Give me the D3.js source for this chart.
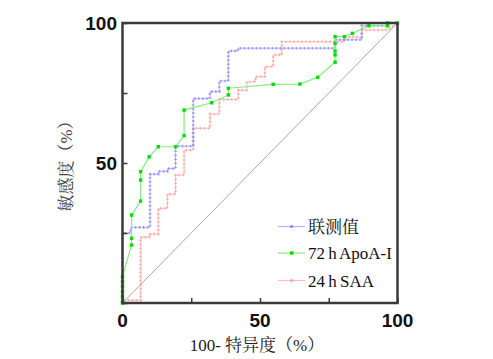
<!DOCTYPE html>
<html><head><meta charset="utf-8">
<script src="https://cdn.jsdelivr.net/npm/d3@7"></script>
<style>body{margin:0;background:#fff}svg{display:block}</style>
</head><body>
<script>
const seriesNames = ["联测值", "72 h ApoA-I", "24 h SAA"];
const xTicksLabeled = [0, 50, 100];
const yTicksLabeled = [50, 100];
const xTitle = "100- 特异度（%）";
const yTitle = "敏感度（%）";

// 联测值 (blue) ROC vertices [100-specificity, sensitivity]
const combined = [[0,0],[0,25],[3,25],[3,27],[10,27],[10,46],[13,46],[13,47],[16.3,47],[16.3,48],[19.3,48],[19.3,56],[25.7,56],[25.7,73],[31.8,73],[31.8,75.5],[35.2,75.5],[35.2,79.3],[38.5,79.3],[38.5,90],[42,90],[42,91],[77.3,91],[77.3,94],[87,94],[87,99],[96,99],[96,100],[100,100]];
// 72 h ApoA-I (green)
const apoa = [[0,0],[0,0.5],[0,2.3],[0,4.1],[0,5.9],[0,7.6],[0,9.4],[3.3,20.7],[3.3,23.1],[3.3,31.4],[6.6,36.4],[6.6,43.9],[6.6,46.9],[9.7,52.2],[13,55.8],[19.3,55.8],[22.4,59.8],[22.4,68.9],[32.4,71.5],[38.5,74.3],[38.5,76.7],[54.8,78.1],[64.5,78.2],[71,80.6],[77.3,86],[77.3,88.6],[77.3,90],[77.3,92.7],[77.3,95.1],[80.7,95.1],[83.6,96.3],[89.6,99],[96.4,99],[96.4,100],[100,100]];
// 24 h SAA (pink)
const saa = [[0,0],[0,1],[6.6,1],[6.6,23.5],[9.7,23.5],[9.7,24.6],[13,24.6],[13,33.8],[16.3,33.8],[16.3,38.9],[19.3,38.9],[19.3,45.7],[22.4,45.7],[22.4,54.6],[25.7,54.6],[25.7,62.4],[31.8,62.4],[31.8,67.5],[35.2,67.5],[35.2,72.7],[42.1,72.7],[42.1,76],[45.2,76],[45.2,79],[48.4,79],[48.4,80.8],[51.8,80.8],[51.8,84.4],[54.8,84.4],[54.8,88.6],[57.9,88.6],[57.9,93.3],[77.3,93.3],[80.7,93.3],[80.7,95],[87,95],[87,97.5],[96.5,97.5],[100,100]];

const W = 493, H = 359;
const svg = d3.select("body").append("svg").attr("width", W).attr("height", H);
const x = d3.scaleLinear().domain([0,100]).range([122.5, 397.5]);
const y = d3.scaleLinear().domain([0,100]).range([303, 23]);
const line = d3.line().x(d => x(d[0])).y(d => y(d[1]));

// diagonal reference
svg.append("path").datum([[0,0],[100,100]]).attr("d", line)
  .attr("stroke", "#a8a8a8").attr("stroke-width", 1).attr("fill", "none");

const styles = [
  {data: combined, line: "#b4b4ff", dot: "#7b7bff"},
  {data: apoa, line: "#86ea86", dot: "#00dd00"},
  {data: saa, line: "#ffbcbc", dot: "#ff9a9a"}
];
[2,0].forEach(i => {
  const s = styles[i];
  svg.append("path").datum(s.data).attr("d", line)
    .attr("stroke", s.line).attr("stroke-width", 1).attr("fill", "none");
  svg.append("path").datum(s.data).attr("d", line)
    .attr("stroke", s.dot).attr("stroke-width", 2.6).attr("fill", "none")
    .attr("stroke-dasharray", "1.4,2.6").attr("opacity", 0.7);
});
{
  const s = styles[1];
  svg.append("path").datum(s.data).attr("d", line)
    .attr("stroke", s.line).attr("stroke-width", 1.2).attr("fill", "none");
  svg.selectAll(".gm").data(s.data).enter().append("rect")
    .attr("x", d => x(d[0]) - 1.7).attr("y", d => y(d[1]) - 1.7)
    .attr("width", 3.4).attr("height", 3.4).attr("fill", s.dot);
}

// frame
const axisColor = "#3a3a3a";
svg.append("rect").attr("x", x(0)).attr("y", y(100)).attr("width", x(100)-x(0)).attr("height", y(0)-y(100))
  .attr("fill", "none").attr("stroke", axisColor).attr("stroke-width", 2.5);

// axes with inward ticks
const xAxis = d3.axisBottom(x).tickValues([0,25,50,75,100]).tickSize(-5).tickFormat("");
svg.append("g").attr("transform", `translate(0,${y(0)})`).call(xAxis)
  .call(g => { g.select(".domain").remove(); g.selectAll("line").attr("stroke", axisColor).attr("stroke-width", 1.5); });
const yAxis = d3.axisLeft(y).tickValues([0,25,50,75,100]).tickSize(-5).tickFormat("");
svg.append("g").attr("transform", `translate(${x(0)},0)`).call(yAxis)
  .call(g => { g.select(".domain").remove(); g.selectAll("line").attr("stroke", axisColor).attr("stroke-width", 1.5); });

// tick labels
const tickFont = "'Liberation Sans', Arial, sans-serif";
svg.selectAll(".xl").data(xTicksLabeled).enter().append("text")
  .attr("x", d => x(d)).attr("y", 327).attr("text-anchor", "middle")
  .attr("font-family", tickFont).attr("font-weight", "bold").attr("font-size", 19).attr("fill", "#111")
  .text(d => d);
svg.selectAll(".yl").data(yTicksLabeled).enter().append("text")
  .attr("x", 117).attr("y", d => y(d) + 7).attr("text-anchor", "end")
  .attr("font-family", tickFont).attr("font-weight", "bold").attr("font-size", 19).attr("fill", "#111")
  .text(d => d);

// titles
const serif = "'Liberation Serif', 'Times New Roman', 'Noto Serif CJK SC', 'Noto Sans CJK SC', serif";
svg.append("text").attr("x", 257).attr("y", 351).attr("text-anchor", "middle")
  .attr("font-family", serif).attr("font-size", 17).attr("fill", "#222").text(xTitle);
svg.append("text").attr("transform", "translate(72,162) rotate(-90)").attr("text-anchor", "middle")
  .attr("font-family", serif).attr("font-size", 17).attr("fill", "#444").text(yTitle);

// legend
const legY = [226.5, 253, 280.5];
seriesNames.forEach((n, i) => {
  const s = styles[i];
  const g = svg.append("g");
  g.append("line").attr("x1", 278).attr("x2", 305).attr("y1", legY[i]).attr("y2", legY[i])
    .attr("stroke", s.line).attr("stroke-width", 1.2);
  if (i === 1) {
    g.append("rect").attr("x", 290).attr("y", legY[i]-1.7).attr("width", 3.4).attr("height", 3.4).attr("fill", s.dot);
  } else {
    g.append("circle").attr("cx", 291.5).attr("cy", legY[i]).attr("r", 1.5).attr("fill", s.dot);
  }
  g.append("text").attr("x", 308).attr("y", legY[i] + 6).attr("font-family", serif)
    .attr("font-size", 17).attr("word-spacing", -1).attr("fill", "#111").text(n);
});
</script>
</body></html>
